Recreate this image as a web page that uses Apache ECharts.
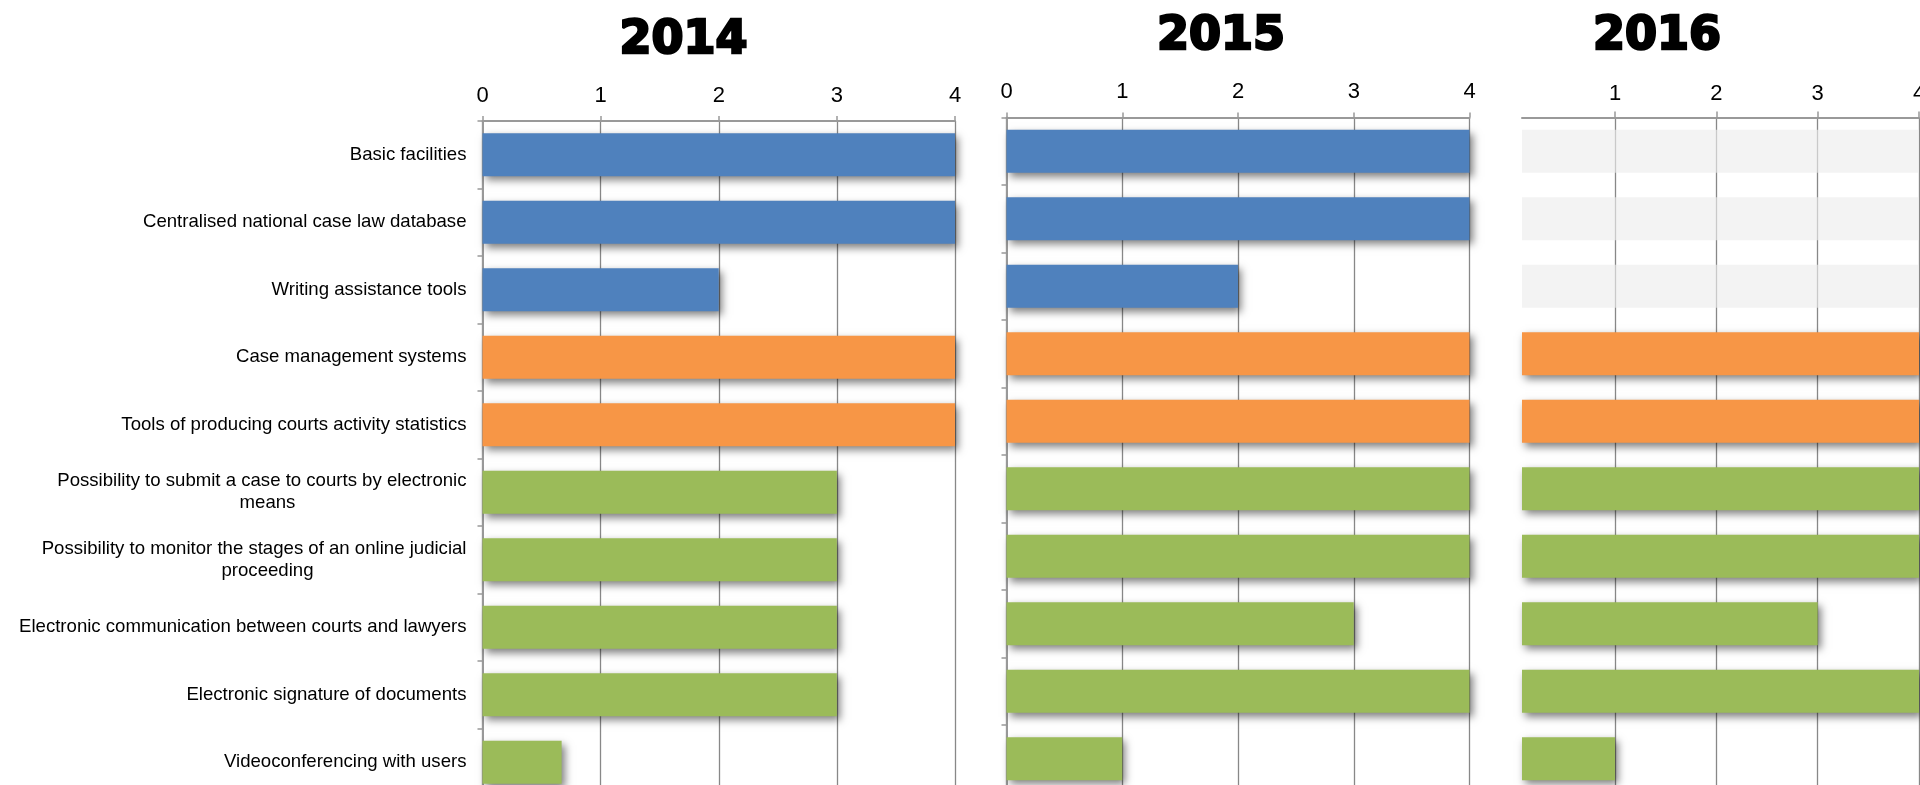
<!DOCTYPE html>
<html><head><meta charset="utf-8">
<script src="https://cdn.jsdelivr.net/npm/echarts@6/dist/echarts.min.js"></script>
<style>html,body{margin:0;padding:0;background:#fff}#c{width:1920px;height:785px}</style>
</head><body><div id="c"></div>
<script>
// ---- data ----
const categories = [
  'Basic facilities',
  'Centralised national case law database',
  'Writing assistance tools',
  'Case management systems',
  'Tools of producing courts activity statistics',
  'Possibility to submit a case to courts by electronic\nmeans',
  'Possibility to monitor the stages of an online judicial\nproceeding',
  'Electronic communication between courts and lawyers',
  'Electronic signature of documents',
  'Videoconferencing with users'
];
const groups = ['assistance','assistance','assistance','administration','administration',
  'communication','communication','communication','communication','communication'];
const years = ['2014', '2015', '2016'];
const values2014 = [4, 4, 2, 4, 4, 3, 3, 3, 3, 0.67];
const values2015 = [4, 4, 2, 4, 4, 4, 4, 3, 4, 1];
const values2016 = [null, null, null, 4, 4, 4, 4, 3, 4, 1];
const noData2016 = [4, 4, 4, null, null, null, null, null, null, null];
const xTickLabels = [0, 1, 2, 3, 4];
const xTickLabels2016 = [1, 2, 3, 4];

// ---- styling ----
const groupColor = { assistance: '#4F81BD', administration: '#F79646', communication: '#9BBB59' };
const FONT = '"Liberation Sans", Arial, sans-serif';
const chart = echarts.init(document.getElementById('c'), null, { renderer: 'canvas' });

const grids = [
  { left: 482.5, top: 121, width: 472.5, height: 675, outerBoundsMode: 'none', containLabel: false },
  { left: 1006.5, top: 117.5, width: 463, height: 675, outerBoundsMode: 'none', containLabel: false },
  { left: 1522, top: 117.5, width: 397, height: 675, outerBoundsMode: 'none', containLabel: false }
];
const labelMargins = [14, 14.5, 13];

function xAxis(i) {
  const ax = {
    type: 'value', gridIndex: i, position: 'top', min: 0, max: 4, interval: 1,
    axisLine: { show: true, lineStyle: { color: '#999', width: 2 } },
    axisTick: { show: true, inside: false, length: 5, lineStyle: { color: '#999', width: 1.5 } },
    axisLabel: { show: true, margin: labelMargins[i], fontSize: 22, color: '#000', fontFamily: FONT,
      customValues: xTickLabels },
    splitLine: { show: true, lineStyle: { color: '#888', width: 1.3 } }
  };
  if (i === 2) {
    delete ax.interval;
    ax.min = 0.082; ax.splitNumber = 4;
    ax.axisLabel.customValues = xTickLabels2016;
    ax.axisTick.customValues = xTickLabels2016;
    ax.axisTick.length = 6;
  }
  return ax;
}

function yAxis(i) {
  return {
    type: 'category', gridIndex: i, data: categories, inverse: true,
    axisLine: { show: i < 2, lineStyle: { color: '#999', width: 2 } },
    axisTick: { show: i < 2, length: 5, inside: false, lineStyle: { color: '#999', width: 1.5 } },
    splitLine: { show: false },
    axisLabel: {
      show: i === 0, interval: 0, margin: 16, fontSize: 18.6, color: '#000', fontFamily: FONT,
      lineHeight: 22, width: 398, overflow: 'none',
      formatter: function (v) {
        const parts = v.split('\n');
        if (parts.length === 1) return v;
        return parts[0] + '\n{c|' + parts[1] + '}';
      },
      rich: { c: { align: 'center', fontSize: 18.6, color: '#000', fontFamily: FONT, lineHeight: 22 } }
    }
  };
}

const shadow = { shadowColor: 'rgba(0,0,0,0.5)', shadowBlur: 8, shadowOffsetX: 3, shadowOffsetY: 4 };
function barSeries(i, vals) {
  return {
    type: 'bar', xAxisIndex: i, yAxisIndex: i, barCategoryGap: '36%', barGap: '-100%',
    itemStyle: Object.assign({}, shadow),
    data: vals.map((v, k) => v == null ? null : { value: v, itemStyle: { color: groupColor[groups[k]] } }),
    z: 3, animation: false
  };
}

const series = [
  barSeries(0, values2014),
  barSeries(1, values2015),
  {
    type: 'bar', xAxisIndex: 2, yAxisIndex: 2, barCategoryGap: '36%', barGap: '-100%',
    itemStyle: { color: '#ececec', opacity: 0.65 },
    data: noData2016, z: 2, animation: false, silent: true
  },
  barSeries(2, values2016)
];

const titleX = [683.5, 1221, 1657];
const titleY = [41, 37, 37];
const graphic = years.map((y, i) => ({
  type: 'text', x: titleX[i], y: titleY[i], z: 10,
  style: {
    text: y, fill: '#000', stroke: '#000', lineWidth: 2.5,
    font: 'bold 46px "DejaVu Sans", sans-serif',
    align: 'center', verticalAlign: 'middle', textAlign: 'center', textVerticalAlign: 'middle'
  }
}));

chart.setOption({
  backgroundColor: '#fff',
  animation: false,
  grid: grids,
  xAxis: [0, 1, 2].map(xAxis),
  yAxis: [0, 1, 2].map(yAxis),
  series: series,
  graphic: graphic
});
</script>
</body></html>
